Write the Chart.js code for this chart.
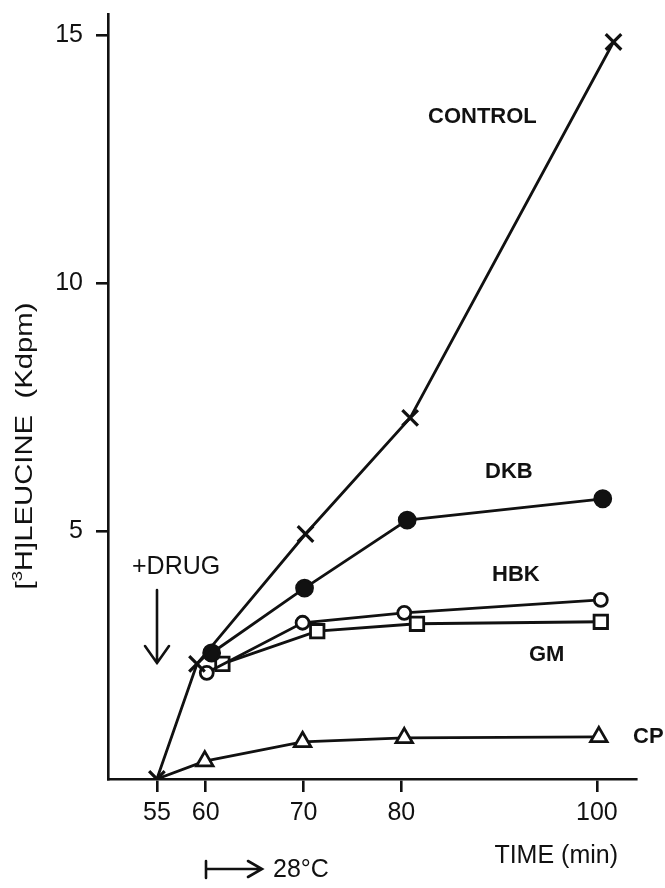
<!DOCTYPE html>
<html>
<head>
<meta charset="utf-8">
<title>[3H]Leucine incorporation</title>
<script src="https://cdn.jsdelivr.net/npm/chart.js@4.4.1/dist/chart.umd.min.js"></script>
<style>
    html, body { margin: 0; padding: 0; background: #fff; }
    #chart { display: block; }
</style>
</head>
<body>
<canvas id="chart" width="665" height="888"></canvas>
<script>
// values (time in min, Kdpm)
const controlTime = [55, 59.1, 70.2, 80.9, 101.7];
const controlValue = [0, 2.32, 4.94, 7.28, 14.86];

const dkbTime = [60.6, 70.1, 80.6, 100.6];
const dkbValue = [2.54, 3.85, 5.22, 5.65];

const hbkTime = [60.1, 69.9, 80.3, 100.4];
const hbkValue = [2.14, 3.15, 3.35, 3.61];

const gmTime = [61.7, 71.4, 81.6, 100.4];
const gmValue = [2.32, 2.98, 3.13, 3.17];

const cpTime = [55, 59.9, 69.9, 80.3, 100.2];
const cpValue = [0, 0.36, 0.75, 0.83, 0.85];

const xTicks = [55, 60, 70, 80, 100];
const yTicks = [5, 10, 15];

const INK = '#111';
const FONT = '"Liberation Sans", Arial, sans-serif';

function toPoints(times, values) {
    return times.map((t, i) => ({ x: t, y: values[i] }));
}

function series(times, values, style) {
    return Object.assign({
        data: toPoints(times, values),
        borderColor: INK,
        borderWidth: 2.8,
        pointBorderColor: INK,
        pointBorderWidth: 2.8,
        pointBackgroundColor: '#fff',
        tension: 0,
        fill: false
    }, style);
}

// free text, arrows and the rotated y title
const annotations = {
    id: 'annotations',
    afterDraw(chart) {
        const ctx = chart.ctx;
        ctx.save();
        ctx.fillStyle = INK;
        ctx.strokeStyle = INK;
        ctx.lineWidth = 2.6;
        ctx.lineCap = 'round';
        ctx.textBaseline = 'middle';

        ctx.font = 'bold 22px ' + FONT;
        ctx.textAlign = 'left';
        ctx.fillText('CONTROL', 428, 117);
        ctx.fillText('DKB', 485, 472);
        ctx.fillText('HBK', 492, 575);
        ctx.fillText('GM', 529, 655);
        ctx.fillText('CP', 633, 737);

        ctx.font = '25px ' + FONT;
        ctx.fillText('+DRUG', 132, 567);

        // drug arrow
        ctx.beginPath();
        ctx.moveTo(157, 590);
        ctx.lineTo(157, 663);
        ctx.moveTo(145, 646);
        ctx.lineTo(157, 663);
        ctx.lineTo(169, 646);
        ctx.stroke();

        ctx.textAlign = 'right';
        ctx.fillText('TIME (min)', 618, 856);

        // shift to 28 °C
        ctx.beginPath();
        ctx.moveTo(206, 861);
        ctx.lineTo(206, 878);
        ctx.moveTo(206, 869);
        ctx.lineTo(261, 869);
        ctx.moveTo(248, 861);
        ctx.lineTo(262, 869);
        ctx.lineTo(248, 877);
        ctx.stroke();
        ctx.textAlign = 'left';
        ctx.fillText('28°C', 273, 870);

        // y title, stretched to the span it has in the figure
        ctx.translate(25, 446);
        ctx.rotate(-Math.PI / 2);
        const big = '24px ' + FONT;
        const small = '15px ' + FONT;
        const parts = [['[', big, 0], ['3', small, -7], ['H]LEUCINE  (Kdpm)', big, 0]];
        let total = 0;
        parts.forEach(p => { ctx.font = p[1]; total += ctx.measureText(p[0]).width; });
        ctx.scale(287 / total, 1);
        let x = -total / 2;
        parts.forEach(p => {
            ctx.font = p[1];
            ctx.fillText(p[0], x, p[2]);
            x += ctx.measureText(p[0]).width;
        });
        ctx.restore();
    }
};

const axisGrid = {
    drawOnChartArea: false,
    drawTicks: true,
    color: INK,
    lineWidth: 2.6
};

new Chart(document.getElementById('chart'), {
    type: 'line',
    data: {
        datasets: [
            series(controlTime, controlValue, {
                label: 'CONTROL',
                pointStyle: 'crossRot',
                pointRadius: 11,
                pointBorderWidth: 3.2
            }),
            series(dkbTime, dkbValue, { label: 'DKB', pointStyle: 'circle', pointRadius: 8, pointBackgroundColor: INK }),
            series(hbkTime, hbkValue, { label: 'HBK', pointStyle: 'circle', pointRadius: 6.5 }),
            series(gmTime, gmValue, { label: 'GM', pointStyle: 'rect', pointRadius: 9.5 }),
            series(cpTime, cpValue, {
                label: 'CP',
                pointStyle: 'triangle',
                pointRadius: ctx => ctx.dataIndex === 0 ? 0 : 9.5
            })
        ]
    },
    options: {
        responsive: false,
        animation: false,
        events: [],
        layout: { padding: { top: 12, right: 29, left: 0, bottom: 0 } },
        plugins: {
            legend: { display: false },
            tooltip: { enabled: false }
        },
        scales: {
            x: {
                type: 'linear',
                min: 50,
                max: 104,
                afterBuildTicks: scale => { scale.ticks = xTicks.map(v => ({ value: v })); },
                afterFit: scale => {
                    scale.height = 109;
                    scale.paddingLeft = 0;
                    scale.paddingRight = 0;
                },
                grid: Object.assign({ tickLength: 13 }, axisGrid),
                border: { display: true, color: INK, width: 2.6 },
                ticks: {
                    color: INK,
                    font: { family: FONT, size: 25 },
                    padding: 6,
                    maxRotation: 0,
                    autoSkip: false
                }
            },
            y: {
                min: 0,
                max: 15.42,
                afterBuildTicks: scale => { scale.ticks = yTicks.map(v => ({ value: v })); },
                afterFit: scale => {
                    scale.width = 108;
                    scale.paddingTop = 0;
                    scale.paddingBottom = 0;
                },
                grid: Object.assign({ tickLength: 12 }, axisGrid),
                border: { display: true, color: INK, width: 2.6 },
                ticks: {
                    color: INK,
                    font: { family: FONT, size: 25 },
                    padding: 13,
                    autoSkip: false
                }
            }
        }
    },
    plugins: [annotations]
});
</script>
</body>
</html>
